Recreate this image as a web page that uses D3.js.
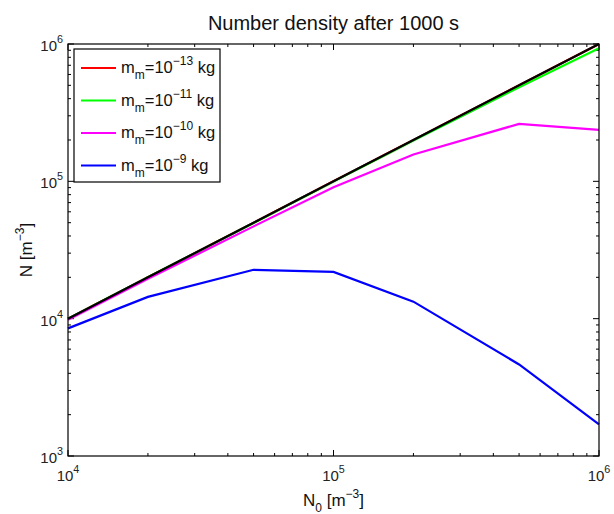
<!DOCTYPE html>
<html><head><meta charset="utf-8">
<script src="https://cdn.jsdelivr.net/npm/d3@7"></script>
<style>body{margin:0;background:#fff}svg{display:block;font-family:"Liberation Sans",Arial,sans-serif}</style>
</head><body><svg id="c" width="614" height="514"></svg>
<script>
const N0 = [1e4, 2e4, 5e4, 1e5, 2e5, 5e5, 1e6];
const red = [1e4, 2e4, 5e4, 1e5, 2e5, 5e5, 1e6];
const green = [1e4, 2e4, 4.98e4, 9.95e4, 1.98e5, 4.85e5, 9.3e5];
const magenta = [9.8e3, 1.95e4, 4.7e4, 9.05e4, 1.57e5, 2.62e5, 2.37e5];
const blue = [8.5e3, 1.44e4, 2.27e4, 2.19e4, 1.33e4, 4.64e3, 1.7e3];
const black = [1e4, 2e4, 5e4, 1e5, 2e5, 5e5, 1e6];
const legendExp = ["-13", "-11", "-10", "-9"];
const legendColors = ["#ff0000", "#00ff00", "#ff00ff", "#0000ff"];
const xTicks = [1e4, 1e5, 1e6];
const yTicks = [1e3, 1e4, 1e5, 1e6];

const L = 68, R = 599, T = 44, B = 456;
const svg = d3.select("#c");
const x = d3.scaleLog().domain([1e4, 1e6]).range([L, R]);
const y = d3.scaleLog().domain([1e3, 1e6]).range([B, T]);

function minors(lo, hi) {
  const out = [];
  for (let d = lo; d < hi; d *= 10) for (let k = 2; k <= 9; k++) out.push(d * k);
  return out;
}
const g = svg.append("g");
const xMin = minors(1e4, 1e6), yMin = minors(1e3, 1e6);
function tickLines(vals, len) {
  vals.forEach(v => {
    const px = x(v);
    g.append("line").attr("x1", px).attr("x2", px).attr("y1", B).attr("y2", B - len);
    g.append("line").attr("x1", px).attr("x2", px).attr("y1", T).attr("y2", T + len);
  });
}
function tickLinesY(vals, len) {
  vals.forEach(v => {
    const py = y(v);
    g.append("line").attr("y1", py).attr("y2", py).attr("x1", L).attr("x2", L + len);
    g.append("line").attr("y1", py).attr("y2", py).attr("x1", R).attr("x2", R - len);
  });
}
tickLines(xMin, 3); tickLines(xTicks, 6);
tickLinesY(yMin, 3); tickLinesY(yTicks, 6);
g.selectAll("line").attr("stroke", "#000").attr("stroke-width", 1);

const line = d3.line().x((d, i) => x(N0[i])).y(d => y(d));
const series = [[red, "#ff0000"], [green, "#00ff00"], [magenta, "#ff00ff"], [blue, "#0000ff"], [black, "#000000"]];
series.forEach(([s, c]) => {
  svg.append("path").datum(s).attr("d", line).attr("fill", "none").attr("stroke", c).attr("stroke-width", 2.2);
});

svg.append("rect").attr("x", L).attr("y", T).attr("width", R - L).attr("height", B - T)
  .attr("fill", "none").attr("stroke", "#000").attr("stroke-width", 1.2);

function pow10(sel, v, fs) {
  const e = Math.round(Math.log10(v));
  sel.append("tspan").text("10");
  sel.append("tspan").attr("dy", -8).attr("font-size", fs * 0.72).text(e);
}
xTicks.forEach(v => {
  const t = svg.append("text").attr("x", x(v)).attr("y", B + 25).attr("text-anchor", "middle")
    .attr("font-size", 15).attr("fill", "#222");
  pow10(t, v, 15);
});
yTicks.forEach(v => {
  const t = svg.append("text").attr("x", L - 5).attr("y", y(v) + 7).attr("text-anchor", "end")
    .attr("font-size", 15).attr("fill", "#222");
  pow10(t, v, 15);
});

svg.append("text").attr("x", (L + R) / 2).attr("y", 30).attr("text-anchor", "middle")
  .attr("font-size", 20).attr("fill", "#111").text("Number density after 1000 s");

const xl = svg.append("text").attr("x", (L + R) / 2).attr("y", 506).attr("text-anchor", "middle").attr("font-size", 17).attr("fill", "#111");
xl.append("tspan").text("N");
xl.append("tspan").attr("dy", 6).attr("font-size", 12).text("0");
xl.append("tspan").attr("dy", -6).text(" [m");
xl.append("tspan").attr("dy", -8).attr("font-size", 12).text("−3");
xl.append("tspan").attr("dy", 8).text("]");

const yl = svg.append("text").attr("transform", `translate(32,${(T + B) / 2}) rotate(-90)`)
  .attr("text-anchor", "middle").attr("font-size", 17).attr("fill", "#111");
yl.append("tspan").text("N [m");
yl.append("tspan").attr("dy", -8).attr("font-size", 12).text("−3");
yl.append("tspan").attr("dy", 8).text("]");

const lg = svg.append("g");
lg.append("rect").attr("x", 74).attr("y", 49).attr("width", 146).attr("height", 133)
  .attr("fill", "#fff").attr("stroke", "#000").attr("stroke-width", 1.2);
legendExp.forEach((e, i) => {
  const yy = 68 + i * 32.5;
  lg.append("line").attr("x1", 81).attr("x2", 116).attr("y1", yy).attr("y2", yy)
    .attr("stroke", legendColors[i]).attr("stroke-width", 2.2);
  const t = lg.append("text").attr("x", 121).attr("y", yy + 5).attr("font-size", 16.5).attr("fill", "#111");
  t.append("tspan").text("m");
  t.append("tspan").attr("dy", 6).attr("font-size", 12).text("m");
  t.append("tspan").attr("dy", -6).text("=10");
  t.append("tspan").attr("dy", -8).attr("font-size", 12).text(e.replace("-", "−"));
  t.append("tspan").attr("dy", 8).text(" kg");
});
</script></body></html>
